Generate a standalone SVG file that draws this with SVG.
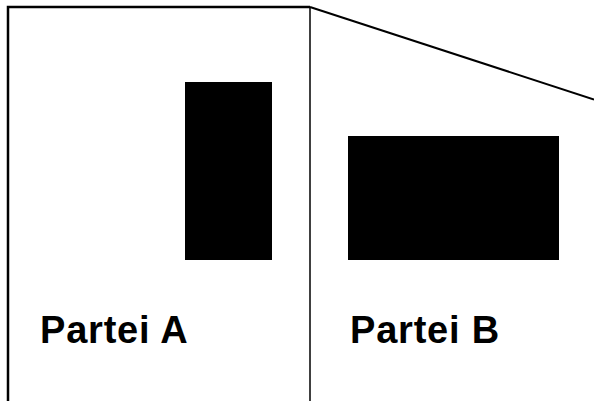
<svg xmlns="http://www.w3.org/2000/svg" width="594" height="401" viewBox="0 0 594 401">
<style>
.lbl{font-family:"Liberation Sans",Arial,sans-serif;font-weight:bold;font-size:38px;letter-spacing:0.8px;fill:#000}
.blk{fill:#000}
</style>
<rect width="594" height="401" fill="#fff"/>
<g id="outline" fill="none" stroke="#000">
<polyline points="8,401 8,7 310,7" stroke-width="2.5"/>
<line x1="310" y1="7" x2="310" y2="401" stroke-width="1.5"/>
<line x1="310" y1="7" x2="594" y2="99.5" stroke-width="2"/>
</g>
<g id="partei-a">
<rect class="blk" x="185" y="82" width="87" height="178"/>
<text class="lbl" x="40" y="342.5">Partei A</text>
</g>
<g id="partei-b">
<rect class="blk" x="348" y="136" width="211" height="124"/>
<text class="lbl" x="350" y="342.5">Partei B</text>
</g>
</svg>
